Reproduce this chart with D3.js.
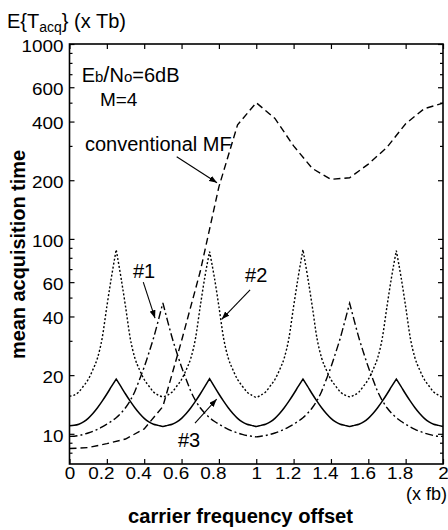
<!DOCTYPE html>
<html>
<head>
<meta charset="utf-8">
<script src="https://cdnjs.cloudflare.com/ajax/libs/d3/7.8.5/d3.min.js"></script>
<style>
body{margin:0;background:#fff;}
svg{display:block;}
text{font-family:"Liberation Sans",Arial,Helvetica,sans-serif;fill:#000;}
</style>
</head>
<body>
<div id="chart"></div>
<script>
// -----------------------------------------
// DATA
// -----------------------------------------
// carrier frequency offset (x fb)
var freq = [0,0.025,0.05,0.075,0.1,0.125,0.15,0.175,0.2,0.225,0.25,0.275,0.3,0.325,0.35,0.375,0.4,0.425,0.45,0.475,
  0.5,0.525,0.55,0.575,0.6,0.625,0.65,0.675,0.7,0.725,0.75,0.775,0.8,0.825,0.85,0.875,0.9,0.925,0.95,0.975,
  1,1.025,1.05,1.075,1.1,1.125,1.15,1.175,1.2,1.225,1.25,1.275,1.3,1.325,1.35,1.375,1.4,1.425,1.45,1.475,
  1.5,1.525,1.55,1.575,1.6,1.625,1.65,1.675,1.7,1.725,1.75,1.775,1.8,1.825,1.85,1.875,1.9,1.925,1.95,1.975,2];

// #1 (dash-dot)
var t1 = [9.7,9.72,9.8,9.93,10.1,10.3,10.55,10.85,11.2,11.6,12.1,12.75,13.6,14.8,16.5,19,22,26,31,38,
  47,38,31,26,22,19,16.5,14.8,13.6,12.75,12.1,11.6,11.2,10.85,10.55,10.3,10.1,9.93,9.8,9.72,
  9.65,9.72,9.8,9.93,10.1,10.3,10.55,10.85,11.2,11.6,12.1,12.75,13.6,14.8,16.5,19,22,26,31,38,
  46.8,38,31,26,22,19,16.5,14.8,13.6,12.75,12.1,11.6,11.2,10.85,10.55,10.3,10.1,9.93,9.8,9.72,9.7];

// #2 (dotted)
var t2 = [15.6,15.8,16.4,17.6,19,21.3,24.5,31,45,64,88,64,45,31,24.5,21.3,19,17.6,16.4,15.8,
  15.5,15.8,16.4,17.6,19,21.3,24.5,31,45,64,86,64,45,31,24.5,21.3,19,17.6,16.4,15.8,
  15.4,15.8,16.4,17.6,19,21.3,24.5,31,45,64,88,64,45,31,24.5,21.3,19,17.6,16.4,15.8,
  15.5,15.8,16.4,17.6,19,21.3,24.5,31,45,64,87,64,45,31,24.5,21.3,19,17.6,16.4,15.8,15.4];

// #3 (solid)
var t3 = [11,11.05,11.2,11.5,12,12.7,13.6,14.7,16,17.5,19.1,17.5,16,14.7,13.6,12.7,12,11.5,11.2,11.05,
  10.9,11.05,11.2,11.5,12,12.7,13.6,14.7,16,17.5,19.2,17.5,16,14.7,13.6,12.7,12,11.5,11.2,11.05,
  10.9,11.05,11.2,11.5,12,12.7,13.6,14.7,16,17.5,19.1,17.5,16,14.7,13.6,12.7,12,11.5,11.2,11.05,
  10.9,11.05,11.2,11.5,12,12.7,13.6,14.7,16,17.5,19.1,17.5,16,14.7,13.6,12.7,12,11.5,11.2,11.05,10.9];

// conventional MF (dashed)
var freqMF = [0,0.1,0.2,0.3,0.4,0.5,0.6,0.7,0.8,0.9,1,1.1,1.2,1.3,1.4,1.5,1.6,1.7,1.8,1.9,2];
var tMF = [8.4,8.5,8.9,9.4,10.6,13.8,30,68,185,385,500,415,300,230,202,206,242,295,390,466,497];

// ticks
var xTicks = [0,0.2,0.4,0.6,0.8,1,1.2,1.4,1.6,1.8,2];
var xTickLabels = ["0","0.2","0.4","0.6","0.8","1","1.2","1.4","1.6","1.8","2"];
var yTicks = [10,20,40,60,100,200,400,600,1000];
var yMinor = [8,9,30,50,70,80,90,300,500,700,800,900];

// -----------------------------------------
// FORMAT VARIABLES
// -----------------------------------------
var W = 448, H = 530;
var plotL = 69.5, plotR = 443, plotT = 44, plotB = 464;
var tickFont = 16, stretch = 1.18;

var svg = d3.select("#chart").append("svg")
  .attr("width", W).attr("height", H);

var x = d3.scaleLinear().domain([0, 2]).range([plotL, plotR]);
var y = d3.scaleLog().domain([7, 1000]).range([plotB, plotT]);

// arrow head
svg.append("defs").append("marker")
  .attr("id", "head")
  .attr("markerUnits", "userSpaceOnUse")
  .attr("markerWidth", 9).attr("markerHeight", 6)
  .attr("refX", 8).attr("refY", 3)
  .attr("orient", "auto")
  .append("path").attr("d", "M0,0 L8,3 L0,6 Z").attr("fill", "#000");

// -----------------------------------------
// AXES
// -----------------------------------------
function styleAxis(g){
  g.select(".domain").remove();
  g.selectAll(".tick line").attr("stroke", "#000").attr("stroke-width", 1.2);
  g.selectAll(".tick text").style("font-size", tickFont + "px").attr("fill", "#000");
}

var yAxis = svg.append("g").attr("transform", "translate(" + plotL + ",0)")
  .call(d3.axisLeft(y).tickValues(yTicks).tickSize(-5).tickPadding(6).tickFormat(d3.format("d")))
  .call(styleAxis);
yAxis.selectAll(".tick text").attr("dy", "0.45em");
svg.append("g").attr("transform", "translate(" + plotL + ",0)")
  .call(d3.axisLeft(y).tickValues(yMinor).tickSize(-3).tickFormat(""))
  .call(styleAxis);
svg.append("g").attr("transform", "translate(" + plotR + ",0)")
  .call(d3.axisRight(y).tickValues(yTicks).tickSize(-5).tickFormat(""))
  .call(styleAxis);
svg.append("g").attr("transform", "translate(" + plotR + ",0)")
  .call(d3.axisRight(y).tickValues(yMinor).tickSize(-3).tickFormat(""))
  .call(styleAxis);

var xAxis = svg.append("g").attr("transform", "translate(0," + plotB + ")")
  .call(d3.axisBottom(x).tickValues(xTicks).tickSize(-5).tickPadding(4)
    .tickFormat(function(d, i){ return xTickLabels[i]; }))
  .call(styleAxis);
xAxis.selectAll(".tick text").attr("dx", function(d){ return d % 1 ? -6 : 0; });
svg.append("g").attr("transform", "translate(0," + plotT + ")")
  .call(d3.axisTop(x).tickValues(xTicks).tickSize(-5).tickFormat(""))
  .call(styleAxis);

// tick labels in the scan are a bit wider than the font
svg.selectAll(".tick text").each(function(){
  var w = this.getComputedTextLength();
  if (w > 0) d3.select(this).attr("textLength", w * stretch).attr("lengthAdjust", "spacingAndGlyphs");
});

// frame
svg.append("rect")
  .attr("x", plotL).attr("y", plotT)
  .attr("width", plotR - plotL).attr("height", plotB - plotT)
  .attr("fill", "none").attr("stroke", "#000").attr("stroke-width", 1.6);

// -----------------------------------------
// CURVES
// -----------------------------------------
// smooth between points but keep the peaks sharp
function cuspPath(xs, ys){
  var pts = xs.map(function(f, i){ return [x(f), y(ys[i])]; });
  var parts = [], cur = [pts[0]];
  for (var i = 1; i < pts.length; i++){
    cur.push(pts[i]);
    if (i < pts.length - 1 && ys[i] > ys[i-1] && ys[i] > ys[i+1]){
      parts.push(cur);
      cur = [pts[i]];
    }
  }
  parts.push(cur);
  var smooth = d3.line().curve(d3.curveMonotoneX);
  return parts.map(function(p, k){
    var d = smooth(p);
    return k ? d.replace(/^M/, "L") : d;
  }).join("");
}

svg.append("path").attr("d", cuspPath(freq, t2))
  .attr("fill", "none").attr("stroke", "#000").attr("stroke-width", 1.4)
  .attr("stroke-dasharray", "2,2");
svg.append("path").attr("d", cuspPath(freq, t1))
  .attr("fill", "none").attr("stroke", "#000").attr("stroke-width", 1.4)
  .attr("stroke-dasharray", "8,3,2,3");
svg.append("path").attr("d", cuspPath(freq, t3))
  .attr("fill", "none").attr("stroke", "#000").attr("stroke-width", 1.5);

var lineMF = d3.line()
  .x(function(d, i){ return x(freqMF[i]); })
  .y(function(d){ return y(d); });
svg.append("path").attr("d", lineMF(tMF))
  .attr("fill", "none").attr("stroke", "#000").attr("stroke-width", 1.4)
  .attr("stroke-dasharray", "7,4");

// -----------------------------------------
// LABELS
// -----------------------------------------
// title
var title = svg.append("text").attr("x", 7).attr("y", 28).style("font-size", "20px");
title.append("tspan").text("E{T");
title.append("tspan").text("acq").style("font-size", "14px").attr("dy", 4);
title.append("tspan").text("} (x Tb)").attr("dy", -4);

// axis titles
svg.append("text")
  .attr("transform", "translate(25," + ((plotT + plotB) / 2 + 0.5) + ") rotate(-90)")
  .attr("text-anchor", "middle")
  .attr("textLength", 209).attr("lengthAdjust", "spacingAndGlyphs")
  .style("font-size", "20px").style("font-weight", "bold")
  .text("mean acquisition time");
svg.append("text")
  .attr("x", 240.5).attr("y", 523)
  .attr("text-anchor", "middle")
  .attr("textLength", 225).attr("lengthAdjust", "spacingAndGlyphs")
  .style("font-size", "20px").style("font-weight", "bold")
  .text("carrier frequency offset");
svg.append("text")
  .attr("x", 447).attr("y", 500)
  .attr("text-anchor", "end")
  .style("font-size", "18px")
  .text("(x fb)");

// Eb/N0 and M
var snr = svg.append("text").attr("x", x(0.065)).attr("y", y(640)).style("font-size", "20px");
snr.append("tspan").text("E");
snr.append("tspan").text("b").style("font-size", "15px");
snr.append("tspan").text("/").style("font-size", "22px");
snr.append("tspan").text("N");
snr.append("tspan").text("o").style("font-size", "15px");
snr.append("tspan").text("=6dB");
svg.append("text").attr("x", x(0.163)).attr("y", y(478)).style("font-size", "19px").text("M=4");

// curve names and arrows
var notes = [
  {label: "conventional MF", f: 0.083, v: 284, from: [0.574, 264], to: [0.79, 194]},
  {label: "#1", f: 0.34, v: 63, from: [0.395, 60], to: [0.458, 39.2]},
  {label: "#2", f: 0.94, v: 60.4, from: [0.967, 54.7], to: [0.815, 38.7]},
  {label: "#3", f: 0.581, v: 8.6, from: [0.672, 11.35], to: [0.788, 15.06]}
];
notes.forEach(function(n){
  svg.append("text").attr("x", x(n.f)).attr("y", y(n.v))
    .style("font-size", "20px").text(n.label);
  svg.append("line")
    .attr("x1", x(n.from[0])).attr("y1", y(n.from[1]))
    .attr("x2", x(n.to[0])).attr("y2", y(n.to[1]))
    .attr("stroke", "#000").attr("stroke-width", 1.1)
    .attr("marker-end", "url(#head)");
});
</script>
</body>
</html>
